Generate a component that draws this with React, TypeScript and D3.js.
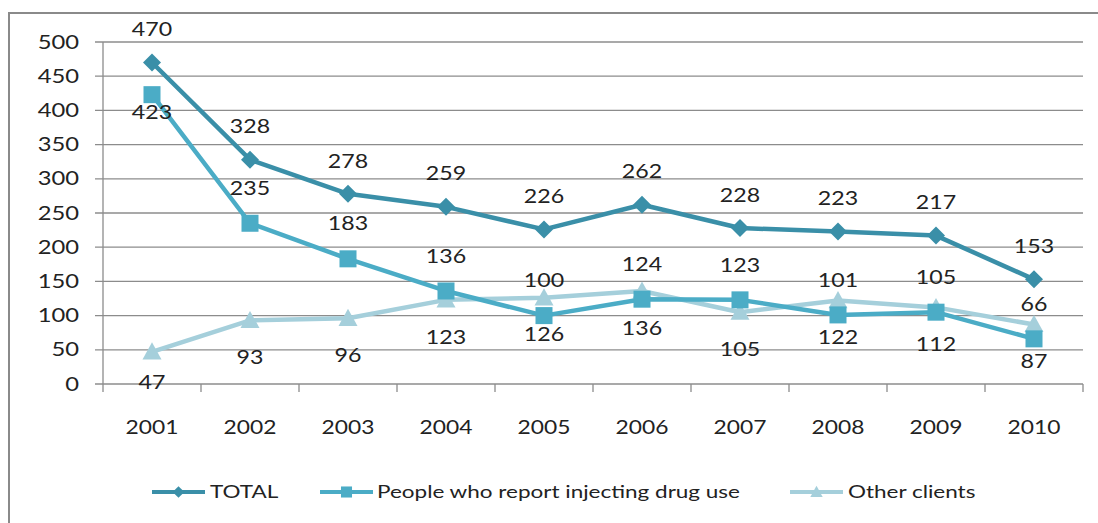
import React from "react";
import * as d3 from "d3";

const years = ["2001", "2002", "2003", "2004", "2005", "2006", "2007", "2008", "2009", "2010"];
const totalValues = [470, 328, 278, 259, 226, 262, 228, 223, 217, 153];
const iduValues = [423, 235, 183, 136, 100, 124, 123, 101, 105, 66];
const otherValues = [47, 93, 96, 123, 126, 136, 105, 122, 112, 87];
const yTicks = [0, 50, 100, 150, 200, 250, 300, 350, 400, 450, 500];
const seriesNames = ["TOTAL", "People who report injecting drug use", "Other clients"];

const W = 1098;
const H = 523;
const FONT = "Lato, 'Open Sans', sans-serif";
const TEXT = "#222";

const colors = ["#3A8FA8", "#4BACC6", "#A5CFDB"];

function T({
  x,
  y,
  anchor,
  size,
  sx,
  children,
}: {
  x: number;
  y: number;
  anchor: string;
  size: number;
  sx: number;
  children: any;
}) {
  return (
    <g transform={`translate(${x},${y}) scale(${sx},1)`}>
      <text x={0} y={0} dy="0.35em" textAnchor={anchor} fontFamily={FONT} fontSize={size} fill={TEXT}>
        {children}
      </text>
    </g>
  );
}

function Marker({ kind, x, y, color, k = 1 }: { kind: string; x: number; y: number; color: string; k?: number }) {
  if (kind === "diamond") {
    const s = 9 * k;
    return <path d={`M${x},${y - s}L${x + s},${y}L${x},${y + s}L${x - s},${y}Z`} fill={color} />;
  }
  if (kind === "square") {
    const s = 8.5 * k;
    return <rect x={x - s} y={y - s} width={2 * s} height={2 * s} fill={color} />;
  }
  const s = 9.5 * k;
  return <path d={`M${x},${y - s}L${x + s},${y + s * 0.8}L${x - s},${y + s * 0.8}Z`} fill={color} />;
}

export default function App() {
  const x = d3.scaleBand<string>().domain(years).range([103, 1083]);
  const y = d3.scaleLinear().domain([0, 500]).range([384, 42]);
  const cx = (yr: string) => (x(yr) as number) + x.bandwidth() / 2;

  const series = [
    { name: seriesNames[0], values: totalValues, color: colors[0], kind: "diamond", offs: totalValues.map(() => -33) },
    { name: seriesNames[1], values: iduValues, color: colors[1], kind: "square", offs: iduValues.map((_, i) => (i === 0 ? 18 : -35)) },
    { name: seriesNames[2], values: otherValues, color: colors[2], kind: "triangle", offs: otherValues.map((_, i) => (i === 0 ? 30 : 37)) },
  ];

  const line = d3
    .line<number>()
    .x((_, i) => cx(years[i]))
    .y((d) => y(d));

  const drawOrder = [2, 1, 0];

  const legendItems = [
    { lineX: 152, textX: 210 },
    { lineX: 320, textX: 377 },
    { lineX: 790, textX: 848 },
  ];

  return (
    <svg width={W} height={H} style={{ position: "absolute", left: 0, top: 0, background: "#fff" }}>
      <rect x={0} y={0} width={W} height={H} fill="#fff" />
      <path d={`M9,${H + 2}L9,13L${W + 2},13`} fill="none" stroke="#8a8a8a" strokeWidth={2} />
      {yTicks.map((t) => (
        <g key={t}>
          <line x1={95} x2={1083} y1={y(t)} y2={y(t)} stroke="#8c8c8c" strokeWidth={1.3} />
          <T x={79} y={y(t)} anchor="end" size={19} sx={1.25}>
            {t}
          </T>
        </g>
      ))}
      <line x1={103} x2={103} y1={42} y2={384} stroke="#8c8c8c" strokeWidth={1.3} />
      {years.map((yr) => (
        <line key={yr} x1={x(yr) as number} x2={x(yr) as number} y1={384} y2={392} stroke="#8c8c8c" strokeWidth={1.3} />
      ))}
      <line x1={1083} x2={1083} y1={384} y2={392} stroke="#8c8c8c" strokeWidth={1.3} />
      {years.map((yr) => (
        <T key={yr} x={cx(yr)} y={427} anchor="middle" size={19} sx={1.2}>
          {yr}
        </T>
      ))}
      {drawOrder.map((si) => {
        const s = series[si];
        return (
          <g key={s.name}>
            <path d={line(s.values) as string} fill="none" stroke={s.color} strokeWidth={4.5} strokeLinejoin="round" />
            {s.values.map((v, i) => (
              <Marker key={i} kind={s.kind} x={cx(years[i])} y={y(v)} color={s.color} />
            ))}
          </g>
        );
      })}
      {series.map((s) =>
        s.values.map((v, i) => (
          <T key={s.name + i} x={cx(years[i])} y={y(v) + s.offs[i]} anchor="middle" size={19} sx={1.22}>
            {v}
          </T>
        ))
      )}
      {series.map((s, i) => (
        <g key={s.name}>
          <line x1={legendItems[i].lineX} x2={legendItems[i].lineX + 53} y1={492} y2={492} stroke={s.color} strokeWidth={4} />
          <Marker kind={s.kind} x={legendItems[i].lineX + 26.5} y={492} color={s.color} k={0.65} />
          <T x={legendItems[i].textX} y={492} anchor="start" size={18} sx={1.25}>
            {s.name}
          </T>
        </g>
      ))}
    </svg>
  );
}
